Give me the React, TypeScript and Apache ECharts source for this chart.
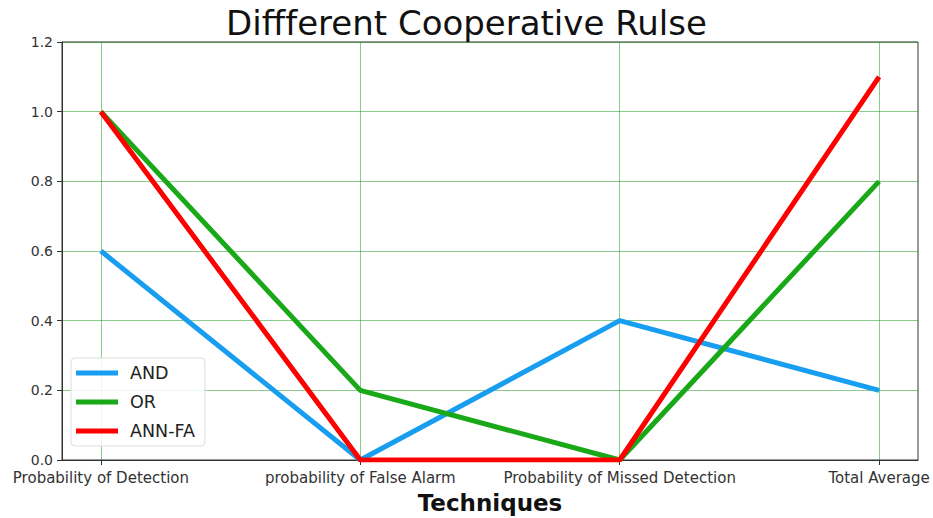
import React, { useEffect, useRef } from "react";
import * as echarts from "echarts";

const categories = [
  "Probability of Detection",
  "probability of False Alarm",
  "Probability of Missed Detection",
  "Total Average",
];
const andValues = [0.6, 0.0, 0.4, 0.2];
const orValues = [1.0, 0.2, 0.0, 0.8];
const annValues = [1.0, 0.0, 0.0, 1.1];

const FONT = "DejaVu Sans";
const GRID_COLOR = "rgba(0,140,0,0.45)";

export default function App() {
  const ref = useRef<HTMLDivElement>(null);
  useEffect(() => {
    if (!ref.current) return;
    const chart = echarts.init(ref.current, null, { renderer: "svg" });
    const toPairs = (vals: number[]) => vals.map((v, i) => [i, v]);
    const catIdx = categories.map((_, i) => i);
    chart.setOption({
      animation: false,
      backgroundColor: "#fff",
      textStyle: { fontFamily: FONT },
      title: {
        text: "Diffferent Cooperative Rulse",
        left: "center",
        top: 1,
        textStyle: { fontFamily: FONT, fontSize: 34, fontWeight: "normal", color: "#111" },
      },
      legend: {
        orient: "vertical",
        left: 71,
        top: 358,
        padding: [6, 10, 6, 5],
        itemGap: 11,
        itemWidth: 42,
        itemHeight: 5,
        icon: "rect",
        backgroundColor: "rgba(255,255,255,0.85)",
        borderColor: "#ddd",
        borderWidth: 1,
        borderRadius: 4,
        textStyle: { fontFamily: FONT, fontSize: 17.5, color: "#222", padding: [0, 0, 0, 7] },
        data: ["AND", "OR", "ANN-FA"],
      },
      grid: {
        left: 62,
        right: 15,
        top: 42,
        bottom: 58,
        outerBoundsMode: "none",
        containLabel: false,
        show: true,
        borderColor: "#333",
        borderWidth: 1,
        backgroundColor: "transparent",
      },
      xAxis: {
        type: "value",
        min: -0.15,
        max: 3.15,
        name: "Techniques",
        nameLocation: "middle",
        nameGap: 31,
        nameTextStyle: { fontFamily: FONT, fontSize: 23, fontWeight: "bold", color: "#111" },
        axisLine: { show: true, onZero: false, lineStyle: { color: "#333", width: 1 } },
        axisTick: { show: true, customValues: catIdx, length: 5, lineStyle: { color: "#333" } },
        axisLabel: {
          customValues: catIdx,
          fontFamily: FONT,
          fontSize: 15,
          color: "#333",
          margin: 10,
          formatter: (v: number) => categories[Math.round(v)] ?? "",
        },
        splitLine: { show: false },
      },
      yAxis: {
        type: "value",
        min: 0,
        max: 1.2,
        interval: 0.2,
        axisLine: { show: true, onZero: false, lineStyle: { color: "#333", width: 1 } },
        axisTick: { show: true, length: 5, lineStyle: { color: "#333" } },
        axisLabel: {
          fontFamily: FONT,
          fontSize: 14,
          color: "#333",
          margin: 9,
          formatter: (v: number) => v.toFixed(1),
        },
        splitLine: { show: true, lineStyle: { color: GRID_COLOR, width: 1 } },
      },
      series: [
        {
          name: "AND",
          type: "line",
          data: toPairs(andValues),
          symbol: "none",
          lineStyle: { width: 5, color: "#189ef0" },
          itemStyle: { color: "#189ef0" },
          markLine: {
            silent: true,
            symbol: ["none", "none"],
            label: { show: false },
            lineStyle: { color: GRID_COLOR, width: 1, type: "solid" },
            data: catIdx.map((i) => ({ xAxis: i })),
            z: 1,
          },
          z: 3,
        },
        {
          name: "OR",
          type: "line",
          data: toPairs(orValues),
          symbol: "none",
          lineStyle: { width: 5, color: "#18a818" },
          itemStyle: { color: "#18a818" },
          z: 4,
        },
        {
          name: "ANN-FA",
          type: "line",
          data: toPairs(annValues),
          symbol: "none",
          lineStyle: { width: 5, color: "#ff0000" },
          itemStyle: { color: "#ff0000" },
          z: 5,
        },
      ],
    });
    return () => chart.dispose();
  }, []);
  return <div ref={ref} style={{ width: 933, height: 518, position: "absolute", left: 0, top: 0 }} />;
}
